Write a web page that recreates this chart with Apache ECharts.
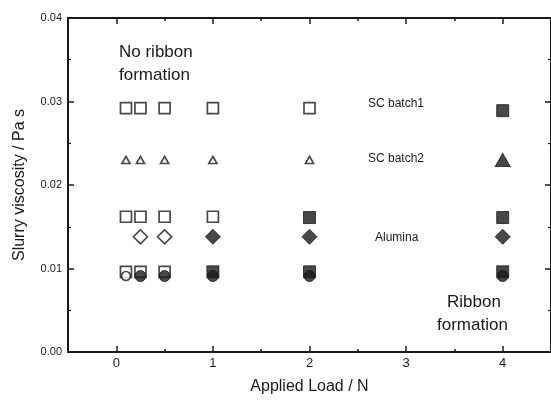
<!DOCTYPE html>
<html>
<head>
<meta charset="utf-8">
<script src="https://cdn.jsdelivr.net/npm/echarts@6/dist/echarts.min.js"></script>
<style>
  html, body { margin: 0; padding: 0; background: #fff; }
  #chart { width: 551px; height: 400px; }
</style>
</head>
<body>
<div id="chart"></div>
<script>
// Applied load (N) for each measurement column
const loads = [0.1, 0.25, 0.5, 1, 2, 4];

// Slurry viscosity (Pa s) per material; null where no point was measured.
// The *Ribbon arrays flag ribbon formation (1 = filled symbol).
const scBatch1Visc   = [0.0292, 0.0292, 0.0292, 0.0292, 0.0292, 0.0289];
const scBatch1Ribbon = [0, 0, 0, 0, 0, 1];

const scBatch2Visc   = [0.0230, 0.0230, 0.0230, 0.0230, 0.0230, 0.0230];
const scBatch2Ribbon = [0, 0, 0, 0, 0, 1];

const midSquareVisc   = [0.0162, 0.0162, 0.0162, 0.0162, 0.0161, 0.0161];
const midSquareRibbon = [0, 0, 0, 0, 1, 1];

const aluminaVisc   = [null, 0.0138, 0.0138, 0.0138, 0.0138, 0.0138];
const aluminaRibbon = [0, 0, 0, 1, 1, 1];

const lowSquareVisc   = [0.0096, 0.0096, 0.0096, 0.0096, 0.0096, 0.0096];
const lowSquareRibbon = [0, 0, 0, 1, 1, 1];

const circleVisc   = [0.0091, 0.0091, 0.0091, 0.0091, 0.0091, 0.0091];
const circleRibbon = [0, 1, 1, 1, 1, 1];

// Axis tick values
const xMajorTicks = [0, 1, 2, 3, 4];
const xMinorTicks = [0.5, 1.5, 2.5, 3.5];

const INK = '#1a1a1a';
const FONT = 'Arial, "Liberation Sans", sans-serif';

function points(values, ribbon, symbol, openSize, filledSize) {
  const out = [];
  values.forEach((v, i) => {
    if (v === null) return;
    const filled = ribbon[i] === 1;
    out.push({
      value: [loads[i], v],
      symbol: symbol,
      symbolSize: filled ? filledSize : openSize,
      itemStyle: filled
        ? { color: INK, borderColor: INK, borderWidth: 1 }
        : { color: '#fff', borderColor: INK, borderWidth: 1.7 }
    });
  });
  return out;
}

function scatter(name, data) {
  return {
    name: name, type: 'scatter', xAxisIndex: 0, yAxisIndex: 0,
    data: data, animation: false, emphasis: { disabled: true }
  };
}

const axisLine = { show: true, onZero: false, lineStyle: { color: INK, width: 2 } };

function xAxis(position, ticks, len, labels) {
  return {
    type: 'value', min: -0.5, max: 4.5, position: position,
    axisLine: axisLine,
    axisTick: { show: true, inside: true, length: len, customValues: ticks, lineStyle: { color: INK, width: 1.5 } },
    axisLabel: labels
      ? { show: true, customValues: ticks, fontSize: 13, color: INK, fontFamily: FONT, margin: 5 }
      : { show: false },
    splitLine: { show: false }
  };
}

function yAxis(position, labels) {
  return {
    type: 'value', min: 0, max: 0.04, interval: 0.01, position: position,
    axisLine: axisLine,
    axisTick: { show: true, inside: true, length: 6, lineStyle: { color: INK, width: 1.5 } },
    minorTick: { show: true, splitNumber: 2, length: 3, lineStyle: { color: INK, width: 1.2 } },
    axisLabel: labels
      ? { show: true, fontSize: 11, color: INK, fontFamily: FONT, margin: 6,
          formatter: v => v.toFixed(2) }
      : { show: false },
    splitLine: { show: false },
    minorSplitLine: { show: false }
  };
}

const chart = echarts.init(document.getElementById('chart'), null, { renderer: 'canvas' });

const xAxes = [
  xAxis('bottom', xMajorTicks, 6, true),
  xAxis('bottom', xMinorTicks, 3, false),
  xAxis('top', xMajorTicks, 6, false),
  xAxis('top', xMinorTicks, 3, false)
];
xAxes[0].name = 'Applied Load / N';
xAxes[0].nameLocation = 'middle';
xAxes[0].nameGap = 27;
xAxes[0].nameTextStyle = { fontSize: 16, color: INK, fontFamily: FONT };

const yAxes = [yAxis('left', true), yAxis('right', false)];
yAxes[0].name = 'Slurry viscosity / Pa s';
yAxes[0].nameLocation = 'middle';
yAxes[0].nameGap = 40;
yAxes[0].nameTextStyle = { fontSize: 16, color: INK, fontFamily: FONT };

const labelStyle = (size) => ({ fill: INK, font: size + 'px ' + FONT });

chart.setOption({
  backgroundColor: '#fff',
  animation: false,
  grid: { left: 68, right: 0, top: 18, bottom: 47, containLabel: false },
  xAxis: xAxes,
  yAxis: yAxes,
  series: [
    scatter('SC batch1', points(scBatch1Visc, scBatch1Ribbon, 'rect', 11, 12)),
    scatter('SC batch2', points(scBatch2Visc, scBatch2Ribbon, 'triangle', [8, 7], [15, 13])),
    scatter('mid', points(midSquareVisc, midSquareRibbon, 'rect', 11, 12)),
    scatter('Alumina', points(aluminaVisc, aluminaRibbon, 'diamond', 14, 15)),
    scatter('low', points(lowSquareVisc, lowSquareRibbon, 'rect', 11, 12)),
    scatter('circle', points(circleVisc, circleRibbon, 'circle', 9, 11))
  ],
  graphic: [
    { type: 'text', left: 119, top: 44, style: Object.assign({ text: 'No ribbon' }, labelStyle(17)) },
    { type: 'text', left: 119, top: 67, style: Object.assign({ text: 'formation' }, labelStyle(17)) },
    { type: 'text', left: 368, top: 98, style: Object.assign({ text: 'SC batch1' }, labelStyle(12)) },
    { type: 'text', left: 368, top: 153, style: Object.assign({ text: 'SC batch2' }, labelStyle(12)) },
    { type: 'text', left: 375, top: 232, style: Object.assign({ text: 'Alumina' }, labelStyle(12)) },
    { type: 'text', left: 447, top: 294, style: Object.assign({ text: 'Ribbon' }, labelStyle(17)) },
    { type: 'text', left: 437, top: 317, style: Object.assign({ text: 'formation' }, labelStyle(17)) }
  ]
});
</script>
</body>
</html>
